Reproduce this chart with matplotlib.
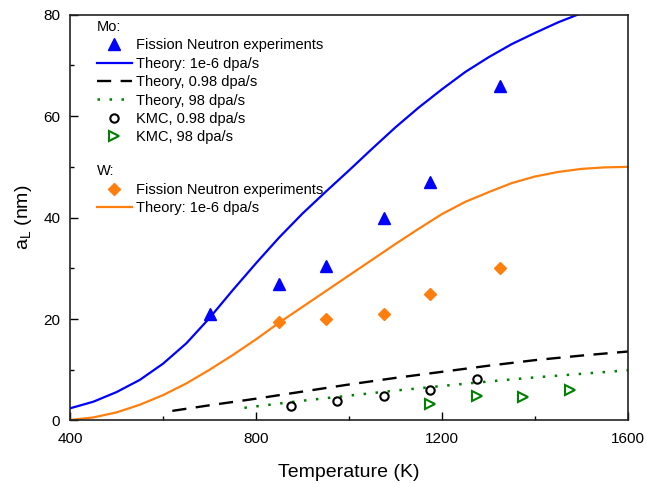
import matplotlib
matplotlib.use('Agg')
import matplotlib.pyplot as plt
from matplotlib.lines import Line2D
from matplotlib.ticker import MultipleLocator

plt.rcParams['font.family'] = ['Liberation Sans', 'DejaVu Sans']
plt.rcParams['mathtext.fontset'] = 'custom'
plt.rcParams['mathtext.rm'] = 'Liberation Sans'
plt.rcParams['mathtext.default'] = 'regular'

### DATA
# Mo fission neutron experiments
mo_exp_T = [700, 850, 950, 1075, 1175, 1325]
mo_exp_a = [21.0, 27.0, 30.5, 40.0, 47.0, 66.0]

# Mo theory, 1e-6 dpa/s
mo_th_T = [400, 450, 500, 550, 600, 650, 700, 750, 800, 850, 900, 950, 1000,
           1050, 1100, 1150, 1200, 1250, 1300, 1350, 1400, 1450, 1500, 1550, 1600]
mo_th_a = [2.4, 3.7, 5.6, 8.0, 11.2, 15.2, 20.2, 25.7, 31.0, 36.1, 40.8, 45.1, 49.3,
           53.6, 57.8, 61.7, 65.3, 68.7, 71.6, 74.2, 76.4, 78.5, 80.3, 81.6, 82.4]

# Mo theory, 0.98 dpa/s
mo_th098_T = [620, 700, 800, 900, 1000, 1100, 1200, 1300, 1400, 1500, 1600]
mo_th098_a = [1.9, 3.0, 4.3, 5.7, 7.1, 8.4, 9.6, 10.8, 11.9, 12.8, 13.6]

# Mo theory, 98 dpa/s
mo_th98_T = [775, 900, 1000, 1100, 1200, 1300, 1400, 1500, 1600]
mo_th98_a = [2.5, 3.9, 4.9, 5.9, 6.8, 7.7, 8.5, 9.2, 9.9]

# KMC results
kmc098_T = [875, 975, 1075, 1175, 1275]
kmc098_a = [2.8, 3.9, 4.8, 6.0, 8.1]
kmc98_T = [1175, 1275, 1375, 1475]
kmc98_a = [3.3, 4.8, 4.7, 6.0]

# W fission neutron experiments + theory
w_exp_T = [850, 950, 1075, 1175, 1325]
w_exp_a = [19.5, 20.0, 21.0, 25.0, 30.0]
w_th_T = [400, 450, 500, 550, 600, 650, 700, 750, 800, 850, 900, 950, 1000,
          1050, 1100, 1150, 1200, 1250, 1300, 1350, 1400, 1450, 1500, 1550, 1600]
w_th_a = [0.1, 0.6, 1.6, 3.1, 5.0, 7.3, 10.0, 12.9, 16.0, 19.3, 22.4, 25.5, 28.6,
          31.7, 34.8, 37.8, 40.7, 43.1, 45.0, 46.8, 48.1, 49.0, 49.6, 49.9, 50.0]

blue = '#0000ff'
orange = '#ff7f0e'
green = '#008000'

fig = plt.figure(figsize=(6.46, 4.83), dpi=100)
ax = fig.add_axes([0.1084, 0.1294, 0.8637, 0.8402])

ax.plot(mo_th_T, mo_th_a, color=blue, lw=1.6)
ax.plot(w_th_T, w_th_a, color=orange, lw=1.6)
ax.plot(mo_th098_T, mo_th098_a, color='black', lw=1.7, dashes=(6, 4))
ax.plot(mo_th98_T, mo_th98_a, color=green, lw=1.8, dashes=(1, 3.8))
ax.plot(mo_exp_T, mo_exp_a, '^', color=blue, ms=8, ls='none')
ax.plot(w_exp_T, w_exp_a, 'D', color=orange, ms=6, ls='none')
ax.plot(kmc098_T, kmc098_a, 'o', mfc='none', mec='black', mew=1.5, ms=6, ls='none')
ax.plot(kmc98_T, kmc98_a, '>', mfc='none', mec=green, mew=1.5, ms=7, ls='none')

ax.set_xlim(400, 1600)
ax.set_ylim(0, 80)
ax.xaxis.set_major_locator(MultipleLocator(400))
ax.xaxis.set_minor_locator(MultipleLocator(200))
ax.yaxis.set_major_locator(MultipleLocator(20))
ax.yaxis.set_minor_locator(MultipleLocator(10))
ax.tick_params(which='both', direction='in', labelsize=11, pad=7)
ax.tick_params(axis='x', pad=8)
ax.tick_params(which='major', length=6, width=1)
ax.tick_params(which='minor', length=3, width=1)
for s in ax.spines.values():
    s.set_linewidth(1.2)
    s.set_color('#222222')

ax.set_xlabel('Temperature (K)', fontsize=14, labelpad=13)
ax.set_ylabel('a$_{L}$ (nm)', fontsize=14, labelpad=7)

### LEGENDS
mo_handles = [
    Line2D([], [], marker='^', color=blue, ls='none', ms=8),
    Line2D([], [], color=blue, lw=1.6),
    Line2D([], [], color='black', lw=1.7, dashes=(6, 4)),
    Line2D([], [], color=green, lw=1.8, dashes=(1, 3.8)),
    Line2D([], [], marker='o', mfc='none', mec='black', mew=1.5, ms=6, ls='none'),
    Line2D([], [], marker='>', mfc='none', mec=green, mew=1.5, ms=7, ls='none'),
]
mo_labels = ['Fission Neutron experiments', 'Theory: 1e-6 dpa/s', 'Theory, 0.98 dpa/s',
             'Theory, 98 dpa/s', 'KMC, 0.98 dpa/s', 'KMC, 98 dpa/s']
leg1 = ax.legend(mo_handles, mo_labels, title='Mo:', loc='upper left',
                 bbox_to_anchor=(0.03, 1.012), frameon=False, fontsize=10.5,
                 title_fontsize=10.5, alignment='left', handlelength=2.4,
                 handletextpad=0.3, labelspacing=0.3, borderaxespad=0.3)
ax.add_artist(leg1)

w_handles = [
    Line2D([], [], marker='D', color=orange, ls='none', ms=6),
    Line2D([], [], color=orange, lw=1.6),
]
w_labels = ['Fission Neutron experiments', 'Theory: 1e-6 dpa/s']
ax.legend(w_handles, w_labels, title='W:', loc='upper left',
          bbox_to_anchor=(0.03, 0.656), frameon=False, fontsize=10.5,
          title_fontsize=10.5, alignment='left', handlelength=2.4,
          handletextpad=0.3, labelspacing=0.3, borderaxespad=0.3)

fig.savefig('out.png', dpi=100)
